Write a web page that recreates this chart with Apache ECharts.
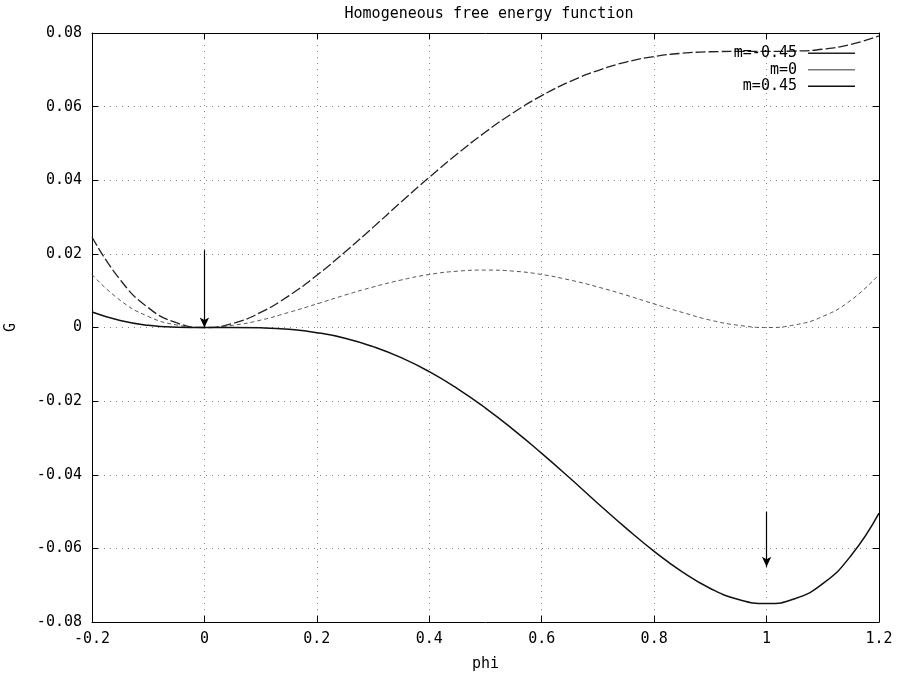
<!DOCTYPE html>
<html>
<head>
<meta charset="utf-8">
<script src="https://cdn.jsdelivr.net/npm/echarts@6/dist/echarts.min.js"></script>
<style>
html,body{margin:0;padding:0;background:#fff;}
#main{width:899px;height:675px;}
</style>
</head>
<body>
<div id="main"></div>
<script>
// phi values and G
var phi = [-0.2,-0.15,-0.1,-0.05,0,0.05,0.1,0.15,0.2,0.25,0.3,0.35,0.4,0.45,0.5,0.55,0.6,0.65,0.7,0.75,0.8,0.85,0.9,0.95,1,1.05,1.1,1.15,1.2];
var gMinus = [0.0246,0.0130,0.0054,0.0013,0,0.0011,0.0041,0.0086,0.0142,0.0205,0.0272,0.0341,0.0408,0.0472,0.0531,0.0584,0.0630,0.0668,0.0698,0.0721,0.0736,0.0745,0.0749,0.0750,0.0750,0.0751,0.0756,0.0769,0.0792];
var gZero = [0.0144,0.0074,0.0030,0.0007,0,0.0006,0.0020,0.0041,0.0064,0.0088,0.0110,0.0129,0.0144,0.0153,0.0156,0.0153,0.0144,0.0129,0.0110,0.0088,0.0064,0.0041,0.0020,0.0006,0,0.0007,0.0030,0.0074,0.0144];
var gPlus = [0.0042,0.0019,0.0006,0.0001,0,0.0000,-0.0001,-0.0005,-0.0014,-0.0029,-0.0052,-0.0082,-0.0120,-0.0166,-0.0219,-0.0278,-0.0342,-0.0409,-0.0478,-0.0545,-0.0608,-0.0664,-0.0709,-0.0739,-0.0750,-0.0737,-0.0696,-0.0620,-0.0504];
var seriesNames = ['m=-0.45','m=0','m=0.45'];
// arrows: [x, yFrom, yTo]
var arrows = [[0,0.021,0],[1,-0.050,-0.065]];

function pairs(ys){
    var out = [];
    for (var i = 0; i < phi.length; i++) out.push([phi[i], ys[i]]);
    return out;
}

var font = 'DejaVu Sans Mono';
var fs = 15;
var myChart = echarts.init(document.getElementById('main'));

var arrowLines = [];
for (var i = 0; i < arrows.length; i++) {
    arrowLines.push([{coord:[arrows[i][0],arrows[i][1]]},{coord:[arrows[i][0],arrows[i][2]]}]);
}

var gridLine = {show:true, lineStyle:{color:'#888', type:[1,5], width:1}};

option = {
    backgroundColor: '#fff',
    animation: false,
    title: {
        text: 'Homogeneous free energy function',
        left: 484, top: 2, textAlign: 'center',
        textStyle: {fontFamily: font, fontSize: fs, fontWeight: 'normal', color: '#000'}
    },
    legend: {
        data: seriesNames,
        orient: 'vertical',
        right: 39, top: 40,
        align: 'right',
        icon: 'rect',
        itemWidth: 47, itemHeight: 1.5, itemGap: 0,
        textStyle: {fontFamily: font, fontSize: fs, color: '#000', lineHeight: 16.5, padding: [0, 6, 0, 0]}
    },
    grid: {left: 92, right: 20, top: 33, bottom: 53, outerBoundsMode: 'none', containLabel: false},
    xAxis: [
    {
        type: 'value', min: -0.2, max: 1.2, interval: 0.2,
        name: 'phi', nameLocation: 'middle', nameGap: 35,
        nameTextStyle: {fontFamily: font, fontSize: fs, color: '#000'},
        axisLine: {onZero: false, lineStyle: {color: '#000', width: 1}},
        axisTick: {inside: true, length: 6, lineStyle: {color: '#000'}},
        axisLabel: {fontFamily: font, fontSize: fs, color: '#000', margin: 10,
            formatter: function (v) { return +v.toFixed(1) + ''; }},
        splitLine: gridLine
    },
    {
        type: 'value', min: -0.2, max: 1.2, interval: 0.2, position: 'top',
        axisLine: {onZero: false, lineStyle: {color: '#000', width: 1}},
        axisTick: {inside: true, length: 6, lineStyle: {color: '#000'}},
        axisLabel: {show: false}, splitLine: {show: false}
    }
    ],
    yAxis: [
    {
        type: 'value', min: -0.08, max: 0.08, interval: 0.02,
        name: 'G', nameLocation: 'middle', nameGap: 73, nameRotate: 90,
        nameTextStyle: {fontFamily: font, fontSize: fs, color: '#000'},
        axisLine: {onZero: false, lineStyle: {color: '#000', width: 1}},
        axisTick: {inside: true, length: 6, lineStyle: {color: '#000'}},
        axisLabel: {fontFamily: font, fontSize: fs, color: '#000', margin: 10,
            formatter: function (v) { return +v.toFixed(2) + ''; }},
        splitLine: gridLine
    },
    {
        type: 'value', min: -0.08, max: 0.08, interval: 0.02, position: 'right',
        axisLine: {onZero: false, lineStyle: {color: '#000', width: 1}},
        axisTick: {inside: true, length: 6, lineStyle: {color: '#000'}},
        axisLabel: {show: false}, splitLine: {show: false}
    }
    ],
    series: [
        {
            name: seriesNames[0], type: 'line', data: pairs(gMinus),
            smooth: true, symbol: 'none',
            lineStyle: {color: '#222', width: 1.3, type: [10, 3]},
            itemStyle: {color: '#222'}
        },
        {
            name: seriesNames[1], type: 'line', data: pairs(gZero),
            smooth: true, symbol: 'none',
            lineStyle: {color: '#555', width: 1, type: [4, 3]},
            itemStyle: {color: '#777'}
        },
        {
            name: seriesNames[2], type: 'line', data: pairs(gPlus),
            smooth: true, symbol: 'none',
            lineStyle: {color: '#111', width: 1.5},
            itemStyle: {color: '#111'},
            markLine: {
                silent: true,
                symbol: ['none', 'arrow'],
                symbolSize: [7, 10],
                label: {show: false},
                lineStyle: {color: '#000', width: 1.2, type: 'solid'},
                data: arrowLines
            }
        }
    ]
};
myChart.setOption(option);
</script>
</body>
</html>
